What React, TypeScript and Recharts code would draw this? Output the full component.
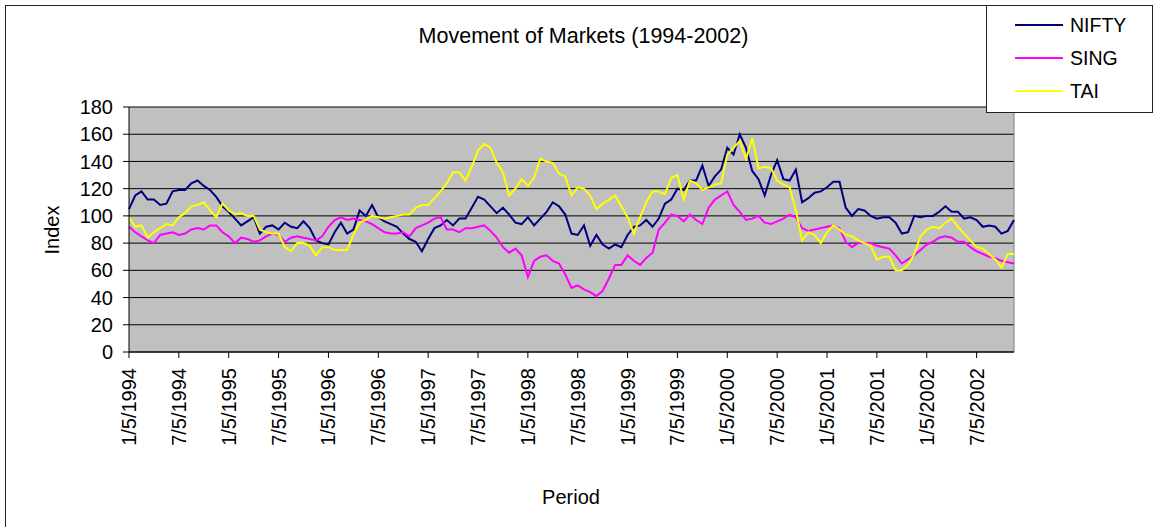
import React from "react";
import { LineChart, Line, XAxis, YAxis, CartesianGrid, ReferenceLine } from "recharts";

// half-year tick labels (Excel style m/d/yyyy)
const tickLabels = [
    "1/5/1994", "7/5/1994", "1/5/1995", "7/5/1995", "1/5/1996", "7/5/1996",
    "1/5/1997", "7/5/1997", "1/5/1998", "7/5/1998", "1/5/1999", "7/5/1999",
    "1/5/2000", "7/5/2000", "1/5/2001", "7/5/2001", "1/5/2002", "7/5/2002",
];

// index values, 8 readings per half-year period
const nifty = [
    105, 115, 118, 112, 112, 108, 109, 118, 119, 119, 124, 126, 122, 119, 114, 107, 103, 98, 93, 96, 99, 87, 92, 93, 90,
    95, 92, 91, 96, 91, 82, 80, 79, 88, 95, 87, 90, 104, 100, 108, 99, 96, 94, 92, 87, 83, 81, 74, 83,
    91, 93, 97, 93, 98, 98, 106, 114, 112, 107, 102, 106, 101, 95, 94, 99, 93, 98, 103, 110, 107, 101, 87, 86,
    93, 78, 86, 79, 76, 79, 77, 86, 92, 93, 97, 92, 98, 109, 112, 120, 119, 126, 126, 137, 122, 129, 134, 150,
    145, 160, 150, 133, 127, 115, 130, 141, 127, 126, 134, 110, 113, 117, 118, 121, 125, 125, 106, 100, 105, 104, 100, 98,
    99, 99, 95, 87, 88, 100, 99, 100, 100, 103, 107, 103, 103, 98, 99, 97, 92, 93, 92, 87, 89, 97,
];

const sing = [
    92, 88, 85, 82, 80, 86, 87, 88, 86, 87, 90, 91, 90, 93, 93, 88, 85, 80, 84, 83, 81, 82, 85, 87, 86,
    81, 84, 85, 84, 83, 82, 85, 92, 97, 99, 97, 98, 97, 96, 94, 91, 88, 87, 87, 88, 85, 91, 93, 95,
    98, 99, 90, 90, 88, 91, 91, 92, 93, 89, 84, 77, 73, 76, 71, 55, 67, 70, 71, 67, 65, 57, 47, 49,
    46, 44, 41, 45, 54, 64, 64, 71, 67, 64, 69, 73, 90, 95, 101, 100, 96, 101, 97, 94, 106, 112, 115, 118,
    108, 103, 97, 98, 100, 95, 94, 96, 98, 101, 99, 91, 89, 90, 91, 92, 93, 91, 81, 77, 80, 80, 80, 78,
    77, 76, 71, 65, 68, 71, 75, 79, 81, 84, 85, 84, 81, 81, 77, 74, 72, 70, 69, 67, 66, 65,
];

const tai = [
    99, 92, 93, 84, 88, 91, 94, 93, 99, 102, 107, 108, 110, 104, 99, 109, 104, 101, 102, 100, 100, 90, 88, 87, 87,
    77, 74, 80, 80, 78, 71, 77, 77, 75, 75, 75, 86, 95, 97, 100, 99, 98, 99, 100, 101, 101, 106, 108, 108,
    113, 118, 124, 132, 132, 126, 136, 148, 153, 150, 139, 132, 115, 120, 127, 122, 128, 142, 140, 139, 131, 129, 115, 121,
    120, 115, 105, 109, 112, 115, 107, 99, 87, 99, 110, 118, 118, 116, 128, 130, 112, 126, 124, 119, 121, 123, 124, 145,
    150, 155, 142, 157, 135, 136, 135, 126, 123, 121, 104, 82, 88, 86, 80, 88, 93, 90, 86, 85, 82, 80, 78, 68,
    70, 70, 60, 60, 64, 72, 85, 90, 92, 91, 95, 98, 92, 87, 82, 77, 76, 72, 68, 62, 72, 72,
];

const yTicks = [0, 20, 40, 60, 80, 100, 120, 140, 160, 180];

const series = [
    { key: "nifty", name: "NIFTY", color: "#000080" },
    { key: "sing", name: "SING", color: "#FF00FF" },
    { key: "tai", name: "TAI", color: "#FFFF00" },
];

const data = nifty.map((v, i) => ({ t: i / 8, nifty: v, sing: sing[i], tai: tai[i] }));
const lastT = (nifty.length - 1) / 8;

const font = "'Liberation Sans', Arial, sans-serif";

const DateTick = (props: any) => {
    const { x, y, payload } = props;
    return (
        <g transform={`translate(${x},${y})`}>
            <text
                transform="rotate(-90)"
                textAnchor="end"
                dy="0.35em"
                fontSize={20}
                fontFamily={font}
                fill="#000"
            >
                {tickLabels[payload.value]}
            </text>
        </g>
    );
};

const App: React.FC = () => {
    return (
        <div style={{ position: "relative", width: 1153, height: 527, background: "#fff", overflow: "hidden", fontFamily: font }}>
            <style>{"body{margin:0}"}</style>
            <div style={{ position: "absolute", left: 5, top: 5, width: 1200, height: 600, borderLeft: "1px solid #222", borderTop: "1px solid #222" }} />
            <div style={{ position: "absolute", left: 0, top: 0 }}>
                <LineChart width={1153} height={527} data={data} margin={{ top: 107, right: 139, bottom: 0, left: 0 }}>
                    <CartesianGrid vertical={false} stroke="#000" fill="#C0C0C0" fillOpacity={1} />
                    <XAxis
                        dataKey="t"
                        type="number"
                        domain={[0, lastT]}
                        ticks={tickLabels.map((_, i) => i)}
                        tick={<DateTick />}
                        tickSize={6}
                        tickMargin={10}
                        height={175}
                        stroke="#000"
                        tickLine={{ stroke: "#000" }}
                        interval={0}
                    />
                    <YAxis
                        domain={[0, 180]}
                        ticks={yTicks}
                        width={129}
                        tickSize={6}
                        tickMargin={10}
                        stroke="#000"
                        tick={{ fontSize: 20, fontFamily: font, fill: "#000" }}
                        interval={0}
                    />
                    <ReferenceLine x={lastT} stroke="#808080" />
                    {series.map((s) => (
                        <Line
                            key={s.key}
                            dataKey={s.key}
                            name={s.name}
                            type="linear"
                            stroke={s.color}
                            strokeWidth={2}
                            dot={false}
                            isAnimationActive={false}
                        />
                    ))}
                </LineChart>
            </div>
            <div style={{ position: "absolute", left: 0, width: 1167, top: 24, textAlign: "center", fontSize: 21.5, lineHeight: "24px" }}>
                Movement of Markets (1994-2002)
            </div>
            <div
                style={{
                    position: "absolute",
                    left: 52,
                    top: 230,
                    transform: "translate(-50%,-50%) rotate(-90deg)",
                    fontSize: 20,
                    lineHeight: "22px",
                    whiteSpace: "nowrap",
                }}
            >
                Index
            </div>
            <div style={{ position: "absolute", left: 0, width: 1142, top: 486, textAlign: "center", fontSize: 20, lineHeight: "22px" }}>
                Period
            </div>
            <div style={{ position: "absolute", left: 986, top: 5, width: 165, height: 106, border: "1px solid #222", background: "#fff" }}>
                {series.map((s, i) => (
                    <div key={s.key} style={{ position: "absolute", left: 28, top: 8 + i * 33, height: 22, display: "flex", alignItems: "center" }}>
                        <div style={{ width: 48, height: 2, background: s.color }} />
                        <div style={{ marginLeft: 7, fontSize: 19.5, lineHeight: "22px" }}>{s.name}</div>
                    </div>
                ))}
            </div>
        </div>
    );
};

export default App;
